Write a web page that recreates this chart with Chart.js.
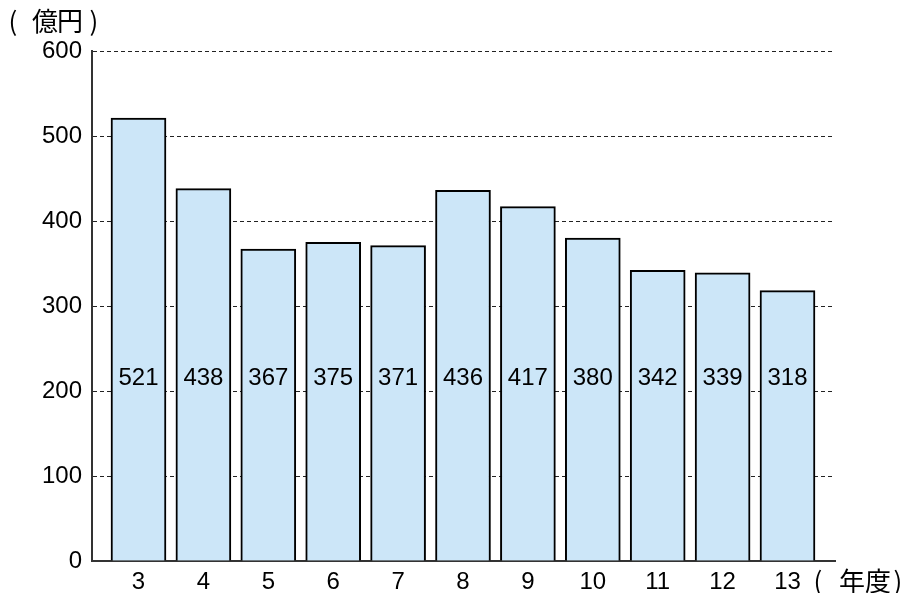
<!DOCTYPE html>
<html lang="ja">
<head>
<meta charset="UTF-8">
<title>年度別推移</title>
<style>
  html, body { margin: 0; padding: 0; background: #fff; }
  #wrap { width: 917px; height: 593px; }
</style>
</head>
<body>
<div id="wrap"><canvas id="grafico" width="917" height="593"></canvas></div>

<script src="https://cdn.jsdelivr.net/npm/chart.js"></script>
<script>
// dados do gráfico
const anos = [3, 4, 5, 6, 7, 8, 9, 10, 11, 12, 13];
const valores = [521, 438, 367, 375, 371, 436, 417, 380, 342, 339, 318];
const ticksY = [0, 100, 200, 300, 400, 500, 600];
const unidadeY = ['(', '億', '円', ')'];
const unidadeX = ['(', '年', '度', ')'];
const alturaRotulo = 215; // nível (em 億円) onde ficam os números dentro das barras

const fonteNum = '"Liberation Sans", Arial, sans-serif';
const fonteCJK = '"Noto Sans CJK JP", sans-serif';

// escreve uma palavra caractere por caractere (espaçamento de largura cheia)
function escreve(ctx, chars, centros, y) {
  chars.forEach((c, i) => ctx.fillText(c, centros[i], y));
}

// escreve os valores dentro das barras e as unidades
const rotulos = {
  id: 'rotulos',
  afterDatasetsDraw(chart) {
    const ctx = chart.ctx;
    const meta = chart.getDatasetMeta(0);
    const y = chart.scales.y.getPixelForValue(alturaRotulo);
    ctx.save();
    ctx.fillStyle = '#000';
    ctx.font = '24px ' + fonteNum;
    ctx.textAlign = 'center';
    ctx.textBaseline = 'middle';
    meta.data.forEach((bar, i) => {
      ctx.fillText(String(valores[i]), bar.x, y);
    });

    ctx.font = '26px ' + fonteCJK;
    escreve(ctx, unidadeY, [13, 45, 70, 94], 21);
    escreve(ctx, unidadeX, [818, 852, 878, 898], 581);
    ctx.restore();
  }
};

new Chart(document.getElementById('grafico'), {
  type: 'bar',
  data: {
    datasets: [{
      data: anos.map((a, i) => ({ x: a, y: valores[i] })),
      backgroundColor: '#cce6f8',
      borderColor: '#000',
      borderWidth: 2,
      barThickness: 55
    }]
  },
  options: {
    responsive: false,
    animation: false,
    layout: { padding: { left: 0, top: 51, right: 82, bottom: 0 } },
    scales: {
      x: {
        type: 'linear',
        offset: false,
        min: 2.2835,
        max: 13.732,
        afterBuildTicks(scale) { scale.ticks = anos.map(v => ({ value: v })); },
        afterFit(scale) { scale.height = 32; },
        grid: { display: false },
        border: { display: true, color: '#333', width: 2 },
        ticks: {
          color: '#000',
          font: { family: fonteNum, size: 24 },
          padding: -1,
          maxRotation: 0,
          autoSkip: false,
          callback: v => String(v)
        }
      },
      y: {
        min: 0,
        max: 600,
        afterBuildTicks(scale) { scale.ticks = ticksY.map(v => ({ value: v })); },
        afterFit(scale) { scale.width = 92; },
        grid: {
          color: '#222',
          lineWidth: 1,
          drawTicks: false
        },
        border: { display: true, color: '#333', width: 2, dash: [4, 3] },
        ticks: {
          color: '#000',
          font: { family: fonteNum, size: 24 },
          padding: 10
        }
      }
    },
    plugins: {
      legend: { display: false },
      tooltip: { enabled: false }
    }
  },
  plugins: [rotulos]
});
</script>
</body>
</html>
